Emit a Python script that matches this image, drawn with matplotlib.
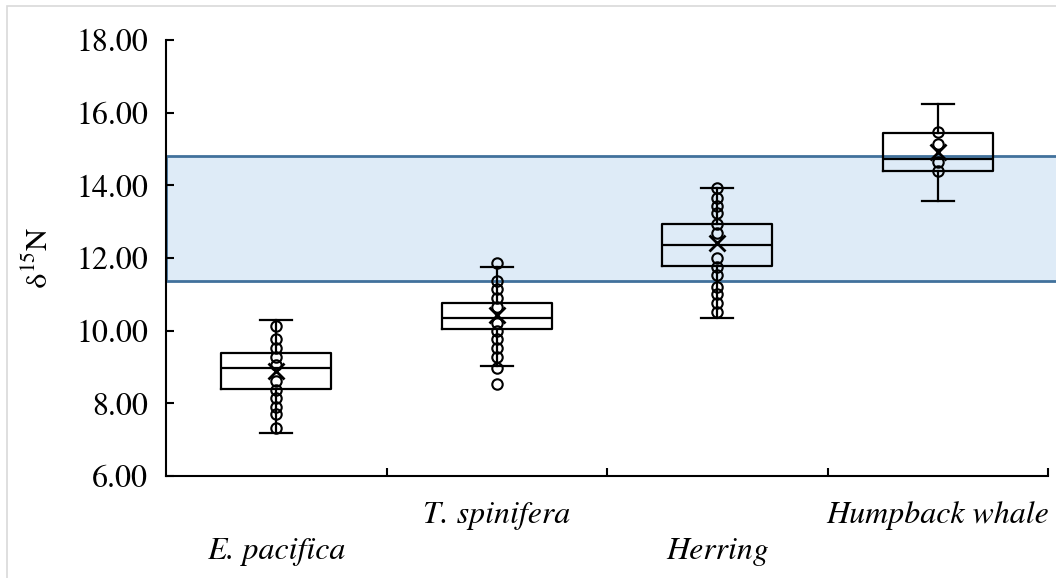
import matplotlib
matplotlib.use("Agg")
import matplotlib.pyplot as plt
import matplotlib.patches as mpatches
import matplotlib.transforms as mtrans

# ---- data ----
categories = ["E. pacifica", "T. spinifera", "Herring", "Humpback whale"]
label_low = [True, False, True, False]
whislo = [7.18, 9.03, 10.35, 13.57]
q1 = [8.39, 10.05, 11.78, 14.40]
medians = [8.97, 10.35, 12.36, 14.73]
q3 = [9.39, 10.76, 12.94, 15.44]
whishi = [10.29, 11.75, 13.93, 16.24]
means = [8.89, 10.43, 12.40, 14.91]
points = [
    [10.13, 9.77, 9.52, 9.28, 9.05, 8.61, 8.37, 8.15, 7.90, 7.71, 7.32],
    [11.86, 11.37, 11.15, 10.90, 10.65, 10.21, 10.00, 9.77, 9.52, 9.27, 8.97, 8.53],
    [13.93, 13.65, 13.43, 13.24, 12.94, 12.70, 12.00, 11.75, 11.53, 11.20, 11.00, 10.76, 10.52],
    [15.47, 15.14, 14.64, 14.40],
]
band_low, band_high = 11.37, 14.82
yticks = [6, 8, 10, 12, 14, 16, 18]

plt.rcParams['font.family'] = ['TeX Gyre Termes', 'STIX Two Text', 'DejaVu Serif']
plt.rcParams['mathtext.fontset'] = 'stix'

W, H = 1056, 578
fig = plt.figure(figsize=(W / 100, H / 100), dpi=100)
ax = fig.add_axes([166 / W, 1 - 476 / H, (1048 - 166) / W, (476 - 40) / H])

fig.patches.append(mpatches.Rectangle((7 / W, -0.1), 1.2, 1 - 6 / H + 0.1,
                                      transform=fig.transFigure, fill=False,
                                      edgecolor='#d9d9d9', lw=1.2, zorder=0))

pos = list(range(1, len(categories) + 1))

band = mpatches.Rectangle((0.5, band_low), 4.04, band_high - band_low,
                          facecolor='#DEEBF7', edgecolor='#41719C', lw=2,
                          clip_on=False, zorder=1)
ax.add_patch(band)

stats = []
for i in range(len(categories)):
    stats.append(dict(med=medians[i], q1=q1[i], q3=q3[i], whislo=whislo[i],
                      whishi=whishi[i], mean=means[i], fliers=[], label=categories[i]))

lw = 1.6
ax.bxp(stats, positions=pos, widths=0.5, capwidths=0.145, showmeans=True,
       showfliers=False, patch_artist=False,
       boxprops=dict(color='black', lw=lw),
       medianprops=dict(color='black', lw=lw),
       whiskerprops=dict(color='black', lw=lw),
       capprops=dict(color='black', lw=lw),
       meanprops=dict(marker='x', markeredgecolor='black', markersize=12, markeredgewidth=2),
       zorder=3)

for p, pts in zip(pos, points):
    ax.plot([p] * len(pts), pts, linestyle='none', marker='o', markersize=7.5,
            markerfacecolor='none', markeredgecolor='black', markeredgewidth=1.5,
            zorder=4)

ax.set_xlim(0.5, 4.5)
ax.set_ylim(6, 18)
ax.set_yticks(yticks)
ax.set_yticklabels([f"{v:.2f}" for v in yticks])
ax.set_xticks([1.5, 2.5, 3.5, 4.5])
ax.set_xticklabels([])
ax.tick_params(axis='y', direction='in', length=6, width=1.5, labelsize=23, pad=13)
ax.tick_params(axis='x', direction='in', length=6, width=1.5)

for s in ['top', 'right']:
    ax.spines[s].set_visible(False)
for s in ['left', 'bottom']:
    ax.spines[s].set_linewidth(1.5)

trans = mtrans.blended_transform_factory(ax.transData, fig.transFigure)
for p, name, low in zip(pos, categories, label_low):
    y = 1 - (552 if low else 516) / H
    ax.text(p, y, name, transform=trans, ha='center', va='center',
            fontsize=23, style='italic')

fig.text(40 / W, 1 - 258 / H, r'δ$^{\mathrm{15}}$N', rotation=90, ha='center', va='center',
         fontsize=22)

fig.savefig('out.png', dpi=100, facecolor='white')
